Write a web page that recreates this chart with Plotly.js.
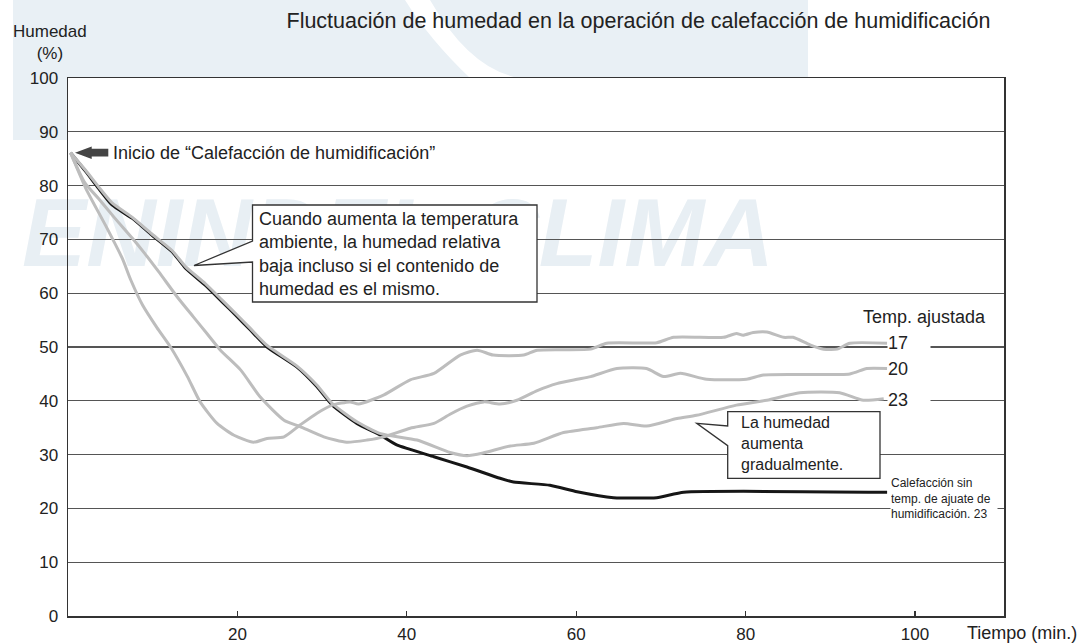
<!DOCTYPE html>
<html>
<head>
<meta charset="utf-8">
<script src="https://cdn.plot.ly/plotly-3.0.1.min.js"></script>
<style>html,body{margin:0;padding:0;background:#fff;}#chart{width:1091px;height:644px;}</style>
</head>
<body>
<div id="chart"></div>
<script>
// ---- data (minutes, % relative humidity) ----
const noHumidX = [0.3, 2.1, 3.6, 5.2, 7.6, 9.9, 12.3, 13.9, 16.2, 18.2, 20.0, 21.5, 23.5, 27.0, 29.4, 31.2, 34.1, 36.9, 38.8, 43.2, 47.1, 51.0, 52.6, 56.9, 60.1, 64.4, 69.5, 72.7, 96.7];
const noHumidY = [86.1, 82.6, 79.5, 76.4, 73.9, 70.8, 67.7, 64.6, 61.5, 58.4, 55.6, 53.2, 50.0, 46.3, 42.6, 39.2, 35.8, 33.6, 31.8, 29.6, 27.7, 25.6, 24.9, 24.3, 23.1, 22.0, 22.0, 23.0, 23.0];

const set17X = [0.3, 2.1, 4.4, 6.4, 7.4, 8.8, 10.5, 12.1, 14.1, 15.6, 17.6, 19.6, 21.9, 23.5, 25.5, 27.4, 29.4, 31.2, 33.3, 34.3, 37.3, 40.4, 43.2, 46.3, 48.3, 50.2, 53.8, 55.4, 61.7, 63.6, 69.5, 71.5, 77.4, 78.9, 79.7, 80.9, 82.5, 84.5, 85.6, 87.6, 89.2, 90.8, 92.3, 96.7];
const set17Y = [86.1, 79.5, 72.7, 66.5, 62.5, 57.8, 53.6, 50.0, 44.5, 39.8, 35.8, 33.6, 32.3, 33.0, 33.3, 35.5, 37.7, 39.2, 39.8, 39.4, 41.1, 43.9, 45.1, 48.5, 49.4, 48.5, 48.5, 49.4, 49.6, 50.7, 50.8, 51.8, 51.8, 52.5, 52.2, 52.7, 52.8, 51.8, 51.8, 50.4, 49.6, 49.6, 50.7, 50.7];

const set20X = [0.3, 2.0, 3.6, 5.5, 7.6, 9.0, 10.7, 12.9, 14.8, 16.4, 18.0, 20.4, 22.7, 25.5, 27.4, 30.2, 32.9, 35.3, 37.3, 40.4, 43.2, 45.1, 47.1, 49.1, 51.0, 53.0, 55.4, 57.7, 60.1, 61.7, 64.8, 68.3, 70.3, 72.3, 75.4, 80.1, 82.1, 92.3, 94.3, 96.7];
const set20Y = [86.1, 80.5, 77.6, 74.0, 70.2, 67.5, 64.0, 59.3, 55.6, 52.5, 49.4, 45.7, 40.7, 36.4, 35.2, 33.3, 32.3, 32.7, 33.3, 34.9, 35.8, 37.5, 39.0, 39.8, 39.4, 40.1, 41.9, 43.2, 44.0, 44.5, 46.0, 46.0, 44.5, 45.1, 44.0, 44.0, 44.8, 45.0, 46.0, 46.0];

const set23X = [0.3, 2.1, 3.6, 5.2, 7.6, 9.9, 12.3, 13.9, 16.2, 18.2, 20.0, 21.5, 23.5, 27.0, 29.4, 31.2, 34.1, 36.9, 41.2, 45.1, 47.1, 49.0, 52.2, 55.0, 58.5, 62.4, 65.6, 68.3, 71.9, 74.2, 78.9, 82.5, 86.4, 91.1, 93.9, 96.3];
const set23Y = [86.1, 82.8, 79.8, 76.8, 74.1, 71.0, 67.9, 64.9, 61.8, 58.7, 55.9, 53.5, 50.3, 46.5, 42.9, 39.5, 36.1, 33.9, 32.7, 30.4, 29.8, 30.3, 31.6, 32.1, 34.1, 35.0, 35.8, 35.3, 36.7, 37.3, 39.2, 40.1, 41.5, 41.5, 40.1, 40.4];

const xTicks = [20, 40, 60, 80, 100];
const yTicks = [0, 10, 20, 30, 40, 50, 60, 70, 80, 90, 100];
const setLabels = ["17", "20", "23"];
const setLabelY = [50.7, 45.85, 40.15];

// ---- geometry helpers (pixel -> axis units, for layout decoration only) ----
const W = 1091, H = 644, ML = 68, MR = 87, MT = 78, MB = 28;
const XMAX = 110.5, YMAX = 100;
const PW = W - ML - MR, PH = H - MT - MB;
const px2x = p => (p - ML) / PW * XMAX;
const py2y = p => (H - MB - p) / PH * YMAX;
const pt = (px, py) => px2x(px).toFixed(3) + ',' + py2y(py).toFixed(3);

const FONT = 'Liberation Sans, Arial, Helvetica, sans-serif';
const GRAY = '#bdbdbd';

const common = {mode: 'lines', hoverinfo: 'skip', showlegend: false};
const traces = [
  Object.assign({x: noHumidX, y: noHumidY, line: {color: '#161616', width: 3, shape: 'spline', smoothing: 0.5}}, common),
  Object.assign({x: set23X, y: set23Y, line: {color: GRAY, width: 3, shape: 'spline', smoothing: 0.6}}, common),
  Object.assign({x: set20X, y: set20Y, line: {color: GRAY, width: 3, shape: 'spline', smoothing: 0.6}}, common),
  Object.assign({x: set17X, y: set17Y, line: {color: GRAY, width: 3, shape: 'spline', smoothing: 0.6}}, common)
];

function calloutPath(L, R, T, B, e1, e2, tx, ty) {
  return 'M' + pt(L, T) + ' L' + pt(R, T) + ' L' + pt(R, B) + ' L' + pt(L, B) +
         ' L' + pt(L, e2) + ' L' + pt(tx, ty) + ' L' + pt(L, e1) + ' Z';
}

const shapes = [
  {type: 'path', xref: 'x', yref: 'y', layer: 'above',
   path: calloutPath(252.5, 537, 205, 302, 241, 262, 194, 265.5),
   fillcolor: '#fff', line: {color: '#333', width: 1.3}},
  {type: 'path', xref: 'x', yref: 'y', layer: 'above',
   path: calloutPath(727.7, 880, 411.7, 478.3, 426, 445.7, 696.7, 423.3),
   fillcolor: '#fff', line: {color: '#333', width: 1.3}},
  // block arrow "start"
  {type: 'path', xref: 'x', yref: 'y', layer: 'above',
   path: 'M' + pt(75, 152.7) + ' L' + pt(91.7, 146.4) + ' L' + pt(91.7, 148.8) + ' L' + pt(108.3, 148.8) +
         ' L' + pt(108.3, 156.6) + ' L' + pt(91.7, 156.6) + ' L' + pt(91.7, 159) + ' Z',
   fillcolor: '#444', line: {width: 0}}
];

const annotations = [
  {xref: 'x', yref: 'y', x: px2x(111), y: py2y(153), xanchor: 'left', yanchor: 'middle', showarrow: false,
   text: 'Inicio de “Calefacción de humidificación”', font: {family: FONT, size: 18, color: '#222'}},
  {xref: 'x', yref: 'y', x: px2x(257), y: py2y(253.5), xanchor: 'left', yanchor: 'middle', align: 'left', showarrow: false,
   text: 'Cuando aumenta la temperatura<br>ambiente, la humedad relativa<br>baja incluso si el contenido de<br>humedad es el mismo.',
   font: {family: FONT, size: 18, color: '#222'}},
  {xref: 'x', yref: 'y', x: px2x(739), y: py2y(443), xanchor: 'left', yanchor: 'middle', align: 'left', showarrow: false,
   text: 'La humedad<br>aumenta<br>gradualmente.', font: {family: FONT, size: 16, color: '#222'}},
  {xref: 'x', yref: 'y', x: px2x(861), y: py2y(317), xanchor: 'left', yanchor: 'middle', showarrow: false,
   text: 'Temp. ajustada', font: {family: FONT, size: 18, color: '#222'}},
  {xref: 'x', yref: 'y', x: px2x(890), y: py2y(498), xanchor: 'left', yanchor: 'middle', align: 'left', showarrow: false,
   width: 106, bgcolor: '#fff', borderpad: 0,
   text: 'Calefacción sin<br>temp. de ajuate de<br>humidificación. 23', font: {family: FONT, size: 12, color: '#222'}},
  {xref: 'paper', yref: 'paper', x: (50 - ML) / PW, y: (H - MB - 42.5) / PH, xanchor: 'center', yanchor: 'middle', showarrow: false,
   text: 'Humedad<br>(%)', font: {family: FONT, size: 17, color: '#222'}},
  {xref: 'paper', yref: 'paper', x: (1022 - ML) / PW, y: (H - MB - 633) / PH, xanchor: 'center', yanchor: 'middle', showarrow: false,
   text: 'Tiempo (min.)', font: {family: FONT, size: 18, color: '#222'}}
];
setLabels.forEach((t, i) => annotations.push({
  xref: 'x', yref: 'y', x: px2x(887), y: setLabelY[i], xanchor: 'left', yanchor: 'middle', align: 'left',
  showarrow: false, width: 42, bgcolor: '#fff', borderpad: 0, text: t, font: {family: FONT, size: 18, color: '#222'}
}));

const wm = "<svg xmlns='http://www.w3.org/2000/svg' width='1091' height='644' viewBox='0 0 1091 644'>" +
  "<path d='M13 0 H808 V78 H68 V140 H13 Z' fill='#e9f0f5'/>" +
  "<path d='M430 0 Q470 70 520 78 L470 78 Q430 40 405 0 Z' fill='#ffffff'/>" +
  "<text x='22' y='266' font-family='Liberation Sans, Arial' font-weight='bold' font-style='italic' font-size='96' fill='#e8eff4' textLength='752' lengthAdjust='spacingAndGlyphs'>ENINDEL CLIMA</text>" +
  "</svg>";

const layout = {
  width: W, height: H,
  margin: {l: ML, r: MR, t: MT, b: MB, pad: 0},
  paper_bgcolor: '#fff', plot_bgcolor: 'rgba(0,0,0,0)',
  font: {family: FONT, color: '#222'},
  title: {text: 'Fluctuación de humedad en la operación de calefacción de humidificación',
          x: 638.5 / W, xanchor: 'center', xref: 'container', y: 1 - 20 / H, yanchor: 'middle', yref: 'container',
          font: {family: FONT, size: 21.5, color: '#222'}},
  xaxis: {range: [0, XMAX], tickvals: xTicks, ticktext: xTicks.map(String), ticks: 'inside', ticklen: 5, tickwidth: 1.2,
          tickcolor: '#333', showline: true, linecolor: '#333', linewidth: 1.5, mirror: true, showgrid: false,
          zeroline: false, tickfont: {family: FONT, size: 17, color: '#222'}, ticklabelstandoff: 2, fixedrange: true},
  yaxis: {range: [0, YMAX], tickvals: yTicks, ticktext: yTicks.map(String), ticks: '', showline: true, linecolor: '#333',
          linewidth: 1.5, mirror: true, showgrid: true, gridcolor: '#555', gridwidth: 1.2, zeroline: false,
          tickfont: {family: FONT, size: 17, color: '#222'}, ticklabelstandoff: 5, fixedrange: true},
  shapes: shapes,
  annotations: annotations,
  images: [{source: 'data:image/svg+xml;charset=utf-8,' + encodeURIComponent(wm), xref: 'paper', yref: 'paper',
            x: -ML / PW, y: 1 + MT / PH, sizex: W / PW, sizey: H / PH, xanchor: 'left', yanchor: 'top',
            sizing: 'stretch', layer: 'below'}]
};

Plotly.newPlot('chart', traces, layout, {staticPlot: true, displayModeBar: false});
</script>
</body>
</html>
